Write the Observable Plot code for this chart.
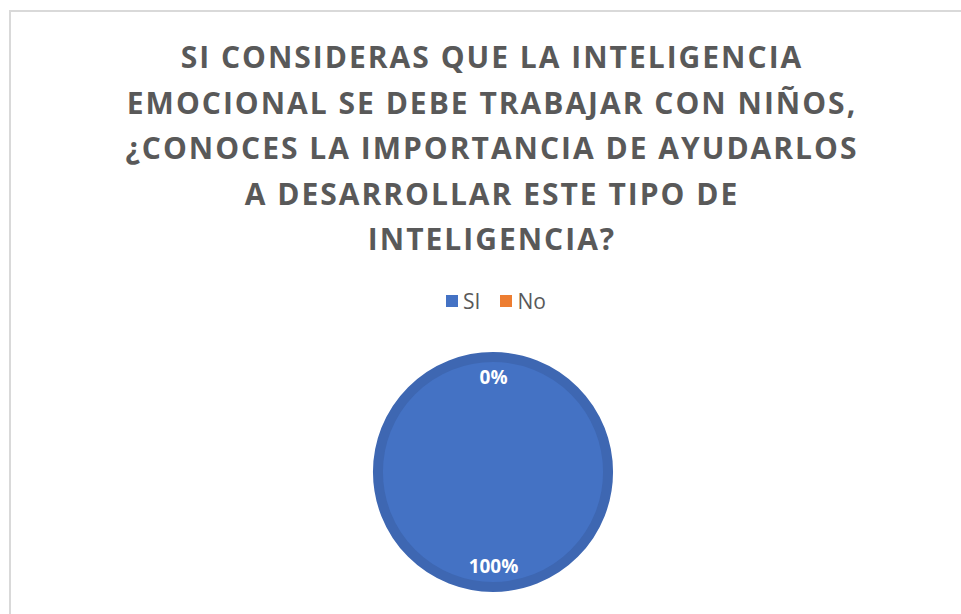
<!DOCTYPE html>
<html>
<head>
<meta charset="utf-8">
<script src="https://cdn.jsdelivr.net/npm/d3@7"></script>
<script src="https://cdn.jsdelivr.net/npm/@observablehq/plot@0.6"></script>
<style>
  html, body { margin: 0; padding: 0; background: #fff; overflow: hidden; }
  #wrap { position: relative; width: 961px; height: 614px; overflow: hidden; }
  #frame { position: absolute; left: 9px; top: 10px; width: 1000px; height: 700px; border: 2px solid #d9d9d9; box-sizing: border-box; }
  #title { position: absolute; left: 0; top: 34px; width: 984px; text-align: center;
    font-family: "Open Sans", sans-serif; font-weight: 700; font-size: 30px; line-height: 45.5px;
    letter-spacing: 2px; color: #595959; }
  #legend { position: absolute; left: 446px; top: 284px; }
  .lg-swatch > svg { margin-right: 5px !important; }
  .lg-swatch { margin-right: 20px !important; }
  #chart { position: absolute; left: 0; top: 340px; }
</style>
</head>
<body>
<div id="wrap">
  <div id="frame"></div>
  <div id="title"></div>
  <div id="legend"></div>
  <div id="chart"></div>
</div>
<script>
const titleLines = [
  "SI CONSIDERAS QUE LA INTELIGENCIA",
  "EMOCIONAL SE DEBE TRABAJAR CON NIÑOS,",
  "¿CONOCES LA IMPORTANCIA DE AYUDARLOS",
  "A DESARROLLAR ESTE TIPO DE",
  "INTELIGENCIA?"
];
const categories = ["SI", "No"];
const values = [100, 0];
const labels = ["100%", "0%"];
const colors = ["#4472C4", "#ED7D31"];
const ringColors = ["#3E67B2", "#D86F2A"];

document.getElementById("title").innerHTML = titleLines.join("<br>");

const data = categories.map((c, i) => ({cat: c, value: values[i], label: labels[i], ring: ringColors[i]}));
const arcs = d3.pie().sort(null).value(d => d.value)(data);
const labelRadius = 0.785;
const labelData = arcs.map(a => {
  const mid = (a.startAngle + a.endAngle) / 2;
  return {label: a.data.label, x: labelRadius * Math.sin(mid), y: labelRadius * Math.cos(mid)};
});

const ringWidth = 10;

const pieMark = (index, scales) => {
  const cx = scales.x(0), cy = scales.y(0);
  const r = scales.x(1) - scales.x(0);
  const arc = d3.arc().innerRadius(0).outerRadius(r - ringWidth / 2);
  const g = d3.create("svg:g").attr("transform", `translate(${cx},${cy})`);
  g.selectAll("path")
    .data(arcs)
    .join("path")
    .attr("d", arc)
    .attr("fill", d => scales.color(d.data.cat))
    .attr("stroke", d => d.data.value > 0 ? d.data.ring : "none")
    .attr("stroke-width", ringWidth);
  return g.node();
};

const plot = Plot.plot({
  width: 961,
  height: 274,
  marginLeft: 373,
  marginRight: 348,
  marginTop: 12,
  marginBottom: 22,
  x: {domain: [-1, 1], axis: null},
  y: {domain: [-1, 1], axis: null},
  color: {domain: categories, range: colors},
  marks: [
    Plot.dot(data, {x: 0, y: 0, r: 0, fill: "cat"}),
    pieMark,
    Plot.text(labelData, {
      x: "x", y: "y", text: "label",
      fill: "white", fontSize: 19, fontWeight: "bold",
      fontFamily: "Open Sans, sans-serif"
    })
  ]
});
document.getElementById("chart").appendChild(plot);

const legend = Plot.legend({
  color: {type: "ordinal", domain: categories, range: colors},
  swatchSize: 12,
  className: "lg",
  style: {fontSize: "21px", color: "#595959", fontFamily: "Open Sans, sans-serif", background: "transparent"}
});
document.getElementById("legend").appendChild(legend);
</script>
</body>
</html>
